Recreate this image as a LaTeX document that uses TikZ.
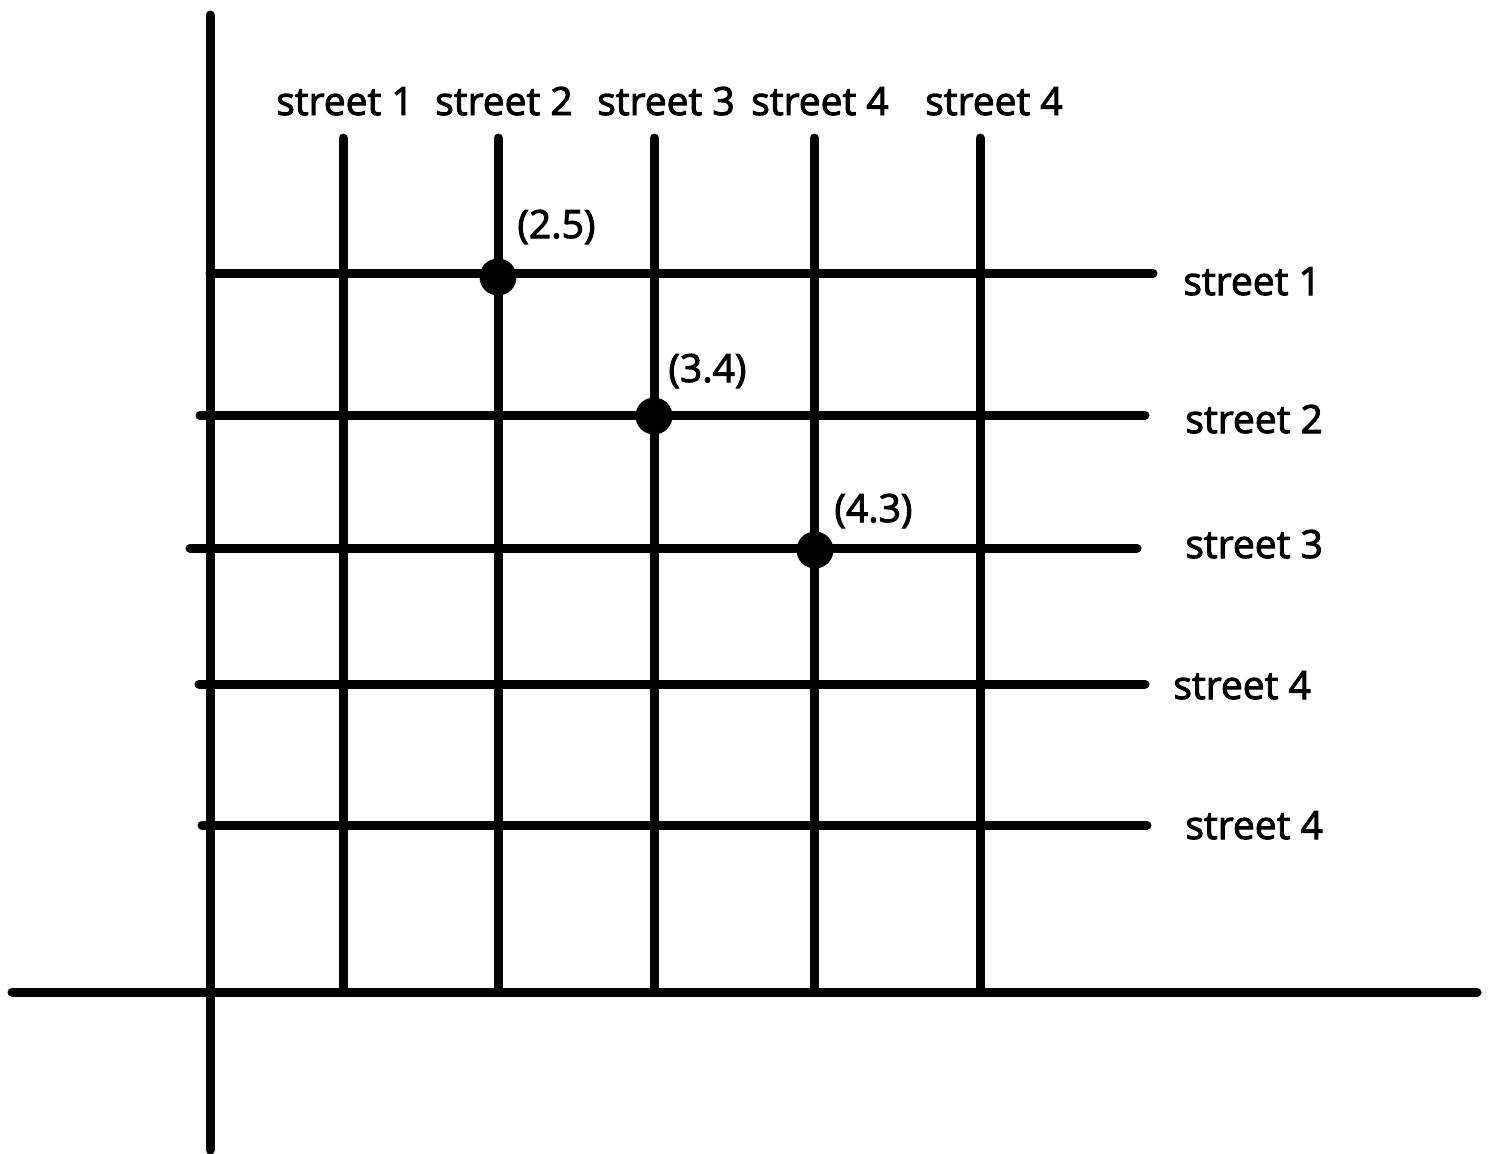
\documentclass[tikz,border=0pt]{standalone}
\usepackage{fontspec}
\setmainfont{Open Sans}[FakeBold=2.5]
\begin{document}
\begin{tikzpicture}[x=0.5pt,y=-0.5pt,
    road/.style={line width=4.5pt,line cap=round},
    spot/.style={circle,fill=black,inner sep=0pt,minimum size=18.5pt},
    lbl/.style={font=\fontsize{19.5}{21}\selectfont,inner sep=0pt}]
            \useasboundingbox (0,0) rectangle (1509,1153);
            % axes
            \draw[road] (210,15) -- (210,1150);
            \draw[road] (12,992) -- (1477,992);
            % vertical streets
            \foreach \x in {343,498,654,814,980}
              \draw[road] (\x,138) -- (\x,992);
            % horizontal streets
            \draw[road] (210,273) -- (1153,273);
            \draw[road] (200,415) -- (1145,415);
            \draw[road] (190,548) -- (1137,548);
            \draw[road] (199,684) -- (1145,684);
            \draw[road] (202,825) -- (1147,825);
            % top labels
            \node[lbl,anchor=base] (v1) at (345,115) {street 1};
            \node[lbl,anchor=base] (v2) at (504,115) {street 2};
            \node[lbl,anchor=base] (v3) at (666,115) {street 3};
            \node[lbl,anchor=base] (v4) at (820,115) {street 4};
            \node[lbl,anchor=base] (v5) at (994,115) {street 4};
            % right labels
            \node[lbl,anchor=base west] (h1) at (1183,295) {street 1};
            \node[lbl,anchor=base west] (h2) at (1185,433) {street 2};
            \node[lbl,anchor=base west] (h3) at (1185,558) {street 3};
            \node[lbl,anchor=base west] (h4) at (1173,699) {street 4};
            \node[lbl,anchor=base west] (h5) at (1185,839) {street 4};
            % intersections
            \node[spot] (p25) at (498,277) {};
            \node[spot] (p34) at (654,416) {};
            \node[spot] (p43) at (815,550) {};
            \node[lbl,anchor=base west] (c25) at (517,238) {(2.5)};
            \node[lbl,anchor=base west] (c34) at (668,382) {(3.4)};
            \node[lbl,anchor=base west] (c43) at (834,522) {(4.3)};
          \end{tikzpicture}
\end{document}
